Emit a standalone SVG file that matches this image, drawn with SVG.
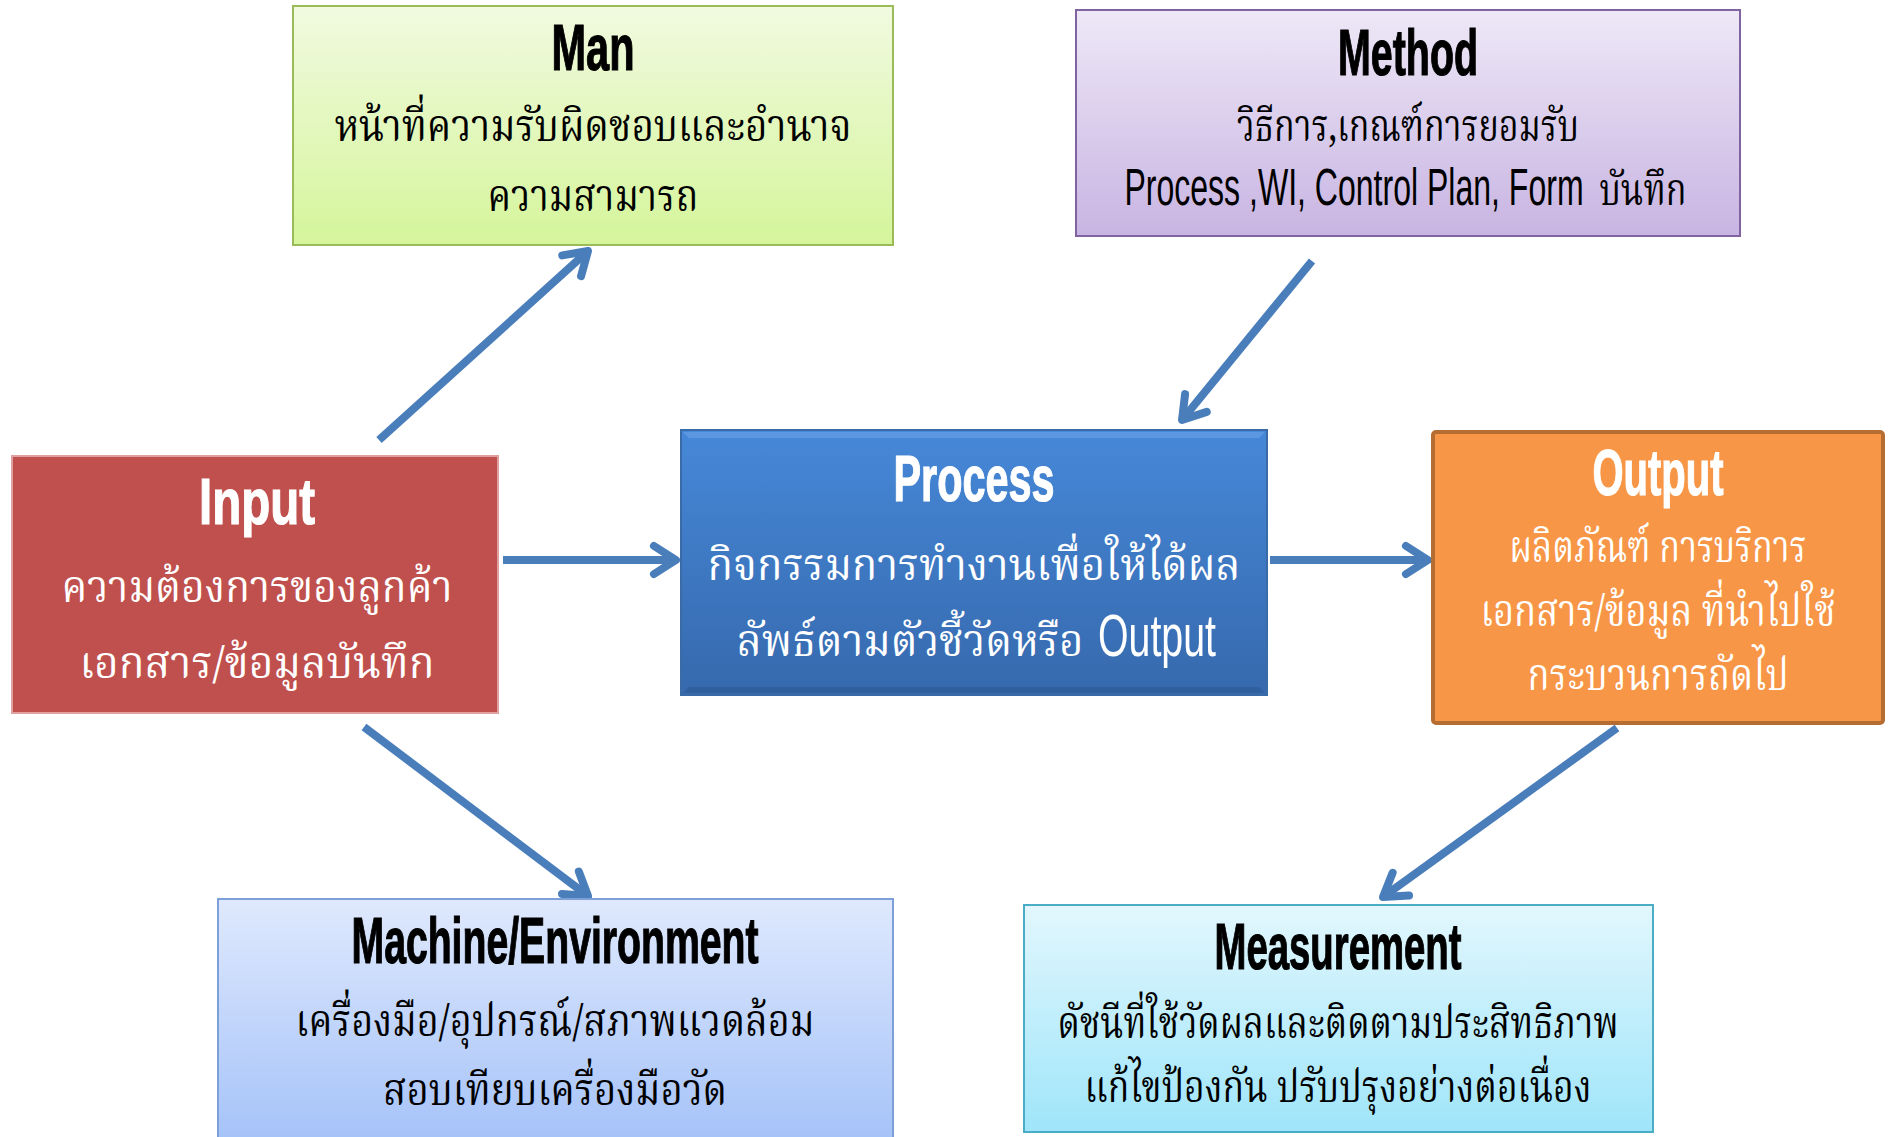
<svg xmlns="http://www.w3.org/2000/svg" width="1888" height="1137" viewBox="0 0 1888 1137">
<style>
.title{font-family:"Liberation Sans Narrow","Liberation Sans",Arial,sans-serif;font-weight:bold;font-size:64px;text-anchor:middle;stroke-width:1.2}
.th{font-family:"Noto Serif Thai","Noto Sans Thai","Noto Sans","DejaVu Sans",sans-serif;font-size:44px;text-anchor:middle}
.en{font-family:"Liberation Sans","Liberation Sans Narrow",Arial,sans-serif;text-anchor:middle}
.dark{fill:#000}
.title.dark{stroke:#000}
.light{fill:#fff}
.title.light{stroke:#fff}
.conn{stroke:#4a7ebb;stroke-width:8;fill:none;marker-end:url(#arr)}
</style>
<defs>
<marker id="arr" markerUnits="userSpaceOnUse" markerWidth="44" markerHeight="44" viewBox="0 0 44 44" refX="38" refY="22" orient="auto">
<path d="M16,8 L38,22 L16,36" fill="none" stroke="#4a7ebb" stroke-width="8" stroke-linecap="round" stroke-linejoin="round"/>
</marker>
<linearGradient id="gMan" x1="0" y1="0" x2="0" y2="1"><stop offset="0" stop-color="#f1fae0"/><stop offset="1" stop-color="#d5f59b"/></linearGradient>
<linearGradient id="gMethod" x1="0" y1="0" x2="0" y2="1"><stop offset="0" stop-color="#eee8f7"/><stop offset="1" stop-color="#c8b4e2"/></linearGradient>
<linearGradient id="gProc" x1="0" y1="0" x2="0" y2="1"><stop offset="0" stop-color="#4688d8"/><stop offset="1" stop-color="#3669ad"/></linearGradient>
<linearGradient id="gMach" x1="0" y1="0" x2="0" y2="1"><stop offset="0" stop-color="#dfe9fd"/><stop offset="1" stop-color="#a3c1f8"/></linearGradient>
<linearGradient id="gMeas" x1="0" y1="0" x2="0" y2="1"><stop offset="0" stop-color="#e2f7fd"/><stop offset="1" stop-color="#9fe5fa"/></linearGradient>
</defs>
<rect width="1888" height="1137" fill="#fff"/>

<g id="connectors">
<line class="conn" x1="379" y1="440" x2="588" y2="251"/>
<line class="conn" x1="1312" y1="261" x2="1182" y2="420"/>
<line class="conn" x1="503" y1="560" x2="676" y2="560"/>
<line class="conn" x1="1270" y1="560" x2="1428" y2="560"/>
<line class="conn" x1="364" y1="727" x2="588" y2="896"/>
<line class="conn" x1="1617" y1="728" x2="1383" y2="897"/>
</g>

<g id="man">
<rect x="293" y="6" width="600" height="239" fill="url(#gMan)" stroke="#9bbb59" stroke-width="2"/>
<text class="title dark" x="593" y="70" textLength="83" lengthAdjust="spacingAndGlyphs">Man</text>
<text class="th dark" x="593" y="141" textLength="517" lengthAdjust="spacingAndGlyphs">หน้าที่ความรับผิดชอบและอำนาจ</text>
<text class="th dark" x="593" y="211" textLength="211" lengthAdjust="spacingAndGlyphs">ความสามารถ</text>
</g>

<g id="method">
<rect x="1076" y="10" width="664" height="226" fill="url(#gMethod)" stroke="#8064a2" stroke-width="2"/>
<text class="title dark" x="1408" y="75" textLength="140" lengthAdjust="spacingAndGlyphs">Method</text>
<text class="th dark" x="1408" y="141" textLength="342" lengthAdjust="spacingAndGlyphs">วิธีการ,เกณฑ์การยอมรับ</text>
<text class="en dark" x="0" y="0" font-size="52" transform="translate(1354,205) scale(0.616,1)">Process ,WI, Control Plan, Form</text>
<text class="th dark" x="1643" y="205" font-size="40" textLength="87" lengthAdjust="spacingAndGlyphs">บันทึก</text>
</g>

<g id="input">
<rect x="12" y="456" width="486" height="257" fill="#c0504d" stroke="#e0a0a0" stroke-width="2"/>
<text class="title light" x="257" y="524" font-size="75" textLength="116" lengthAdjust="spacingAndGlyphs">Input</text>
<text class="th light" x="257" y="602" font-size="46" textLength="391" lengthAdjust="spacingAndGlyphs">ความต้องการของลูกค้า</text>
<text class="th light" x="257" y="678" font-size="46" textLength="355" lengthAdjust="spacingAndGlyphs">เอกสาร/ข้อมูลบันทึก</text>
</g>

<g id="process">
<rect x="681" y="430" width="586" height="265" fill="url(#gProc)" stroke="#3a6ba6" stroke-width="2"/>
<path d="M683,432 L1265,432 L1259,438 L689,438 Z" fill="#6aa3e8" opacity="0.6"/>
<path d="M683,693 L1265,693 L1259,687 L689,687 Z" fill="#2a5590" opacity="0.5"/>
<text class="title light" x="974" y="501" font-size="72" textLength="161" lengthAdjust="spacingAndGlyphs">Process</text>
<text class="th light" x="974" y="580" font-size="46" textLength="533" lengthAdjust="spacingAndGlyphs">กิจกรรมการทำงานเพื่อให้ได้ผล</text>
<text class="th light" x="910" y="656" font-size="46" textLength="347" lengthAdjust="spacingAndGlyphs">ลัพธ์ตามตัวชี้วัดหรือ</text>
<text class="en light" x="1157" y="656" font-size="60" textLength="118" lengthAdjust="spacingAndGlyphs">Output</text>
</g>

<g id="output">
<rect x="1433" y="432" width="450" height="291" rx="3" fill="#f79646" stroke="#b66d31" stroke-width="4"/>
<text class="title light" x="1658" y="495" textLength="131" lengthAdjust="spacingAndGlyphs">Output</text>
<text class="th light" x="1658" y="562" font-size="40" textLength="297" lengthAdjust="spacingAndGlyphs">ผลิตภัณฑ์ การบริการ</text>
<text class="th light" x="1658" y="626" font-size="40" textLength="355" lengthAdjust="spacingAndGlyphs">เอกสาร/ข้อมูล ที่นำไปใช้</text>
<text class="th light" x="1658" y="690" font-size="40" textLength="261" lengthAdjust="spacingAndGlyphs">กระบวนการถัดไป</text>
</g>

<g id="machine">
<rect x="218" y="899" width="675" height="250" fill="url(#gMach)" stroke="#7ea0d8" stroke-width="2"/>
<text class="title dark" x="555" y="963" textLength="407" lengthAdjust="spacingAndGlyphs">Machine/Environment</text>
<text class="th dark" x="555" y="1036" textLength="519" lengthAdjust="spacingAndGlyphs">เครื่องมือ/อุปกรณ์/สภาพแวดล้อม</text>
<text class="th dark" x="555" y="1105" textLength="344" lengthAdjust="spacingAndGlyphs">สอบเทียบเครื่องมือวัด</text>
</g>

<g id="measurement">
<rect x="1024" y="905" width="629" height="227" fill="url(#gMeas)" stroke="#4bacc6" stroke-width="2"/>
<text class="title dark" x="1338" y="969" textLength="247" lengthAdjust="spacingAndGlyphs">Measurement</text>
<text class="th dark" x="1338" y="1038" textLength="561" lengthAdjust="spacingAndGlyphs">ดัชนีที่ใช้วัดผลและติดตามประสิทธิภาพ</text>
<text class="th dark" x="1338" y="1102" textLength="507" lengthAdjust="spacingAndGlyphs">แก้ไขป้องกัน ปรับปรุงอย่างต่อเนื่อง</text>
</g>
</svg>
